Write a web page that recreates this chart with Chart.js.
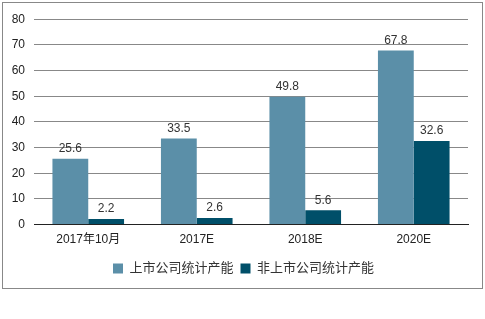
<!DOCTYPE html>
<html>
<head>
<meta charset="utf-8">
<script src="https://cdn.jsdelivr.net/npm/chart.js@4"></script>
<style>
    body { margin: 0; background: #fff; }
    #box {
        position: absolute; left: 2px; top: 2px;
        width: 479px; height: 285px;
        border: 1px solid #888;
    }
</style>
</head>
<body>
<div id="box"><canvas id="myChart" width="479" height="285"></canvas></div>
<script>
const categories = ["2017年10月", "2017E", "2018E", "2020E"];
const listedValues = [25.6, 33.5, 49.8, 67.8];
const unlistedValues = [2.2, 2.6, 5.6, 32.6];
const seriesNames = ["上市公司统计产能", "非上市公司统计产能"];
const yTicks = [0, 10, 20, 30, 40, 50, 60, 70, 80];

const fontFamily = "'Liberation Sans', Arial, 'Noto Sans CJK SC', sans-serif";

// draws the value above each bar
const valueLabels = {
    id: "valueLabels",
    afterLayout(chart) {
        // legend sits a bit right of centre in the original
        chart.legend.left += 8;
        chart.legend.right += 8;
    },
    afterDatasetsDraw(chart) {
        const ctx = chart.ctx;
        ctx.save();
        ctx.font = "12px " + fontFamily;
        ctx.fillStyle = "#333";
        ctx.textAlign = "center";
        ctx.textBaseline = "bottom";
        chart.data.datasets.forEach((ds, i) => {
            chart.getDatasetMeta(i).data.forEach((bar, j) => {
                ctx.fillText(ds.data[j].toFixed(1), bar.x, bar.y - 4);
            });
        });
        ctx.restore();
    }
};

const ctx = document.getElementById("myChart").getContext("2d");
new Chart(ctx, {
    type: "bar",
    data: {
        labels: categories,
        datasets: [
            {
                label: seriesNames[0],
                data: listedValues,
                backgroundColor: "#5b8fa8",
                categoryPercentage: 0.66,
                barPercentage: 1.0,
            },
            {
                label: seriesNames[1],
                data: unlistedValues,
                backgroundColor: "#004f69",
                categoryPercentage: 0.66,
                barPercentage: 1.0,
            },
        ],
    },
    options: {
        responsive: false,
        animation: false,
        layout: { padding: { top: 8, right: 14, bottom: 3, left: 0 } },
        plugins: {
            tooltip: { enabled: false },
            legend: {
                position: "bottom",
                labels: {
                    boxWidth: 10,
                    boxHeight: 10,
                    padding: 7,
                    color: "#333",
                    font: { size: 13, family: fontFamily },
                },
            },
        },
        scales: {
            x: {
                grid: { display: false, drawTicks: false },
                border: { color: "#222", width: 1 },
                ticks: { color: "#222", padding: 8, font: { size: 12, family: fontFamily } },
            },
            y: {
                min: 0,
                max: 80,
                afterBuildTicks: (s) => { s.ticks = yTicks.map(v => ({ value: v })); },
                afterFit: (s) => { s.width = 31; },
                grid: { color: "#888", drawTicks: false },
                border: { display: false },
                ticks: { color: "#222", padding: 9, font: { size: 12, family: fontFamily } },
            },
        },
    },
    plugins: [valueLabels],
});
</script>
</body>
</html>
